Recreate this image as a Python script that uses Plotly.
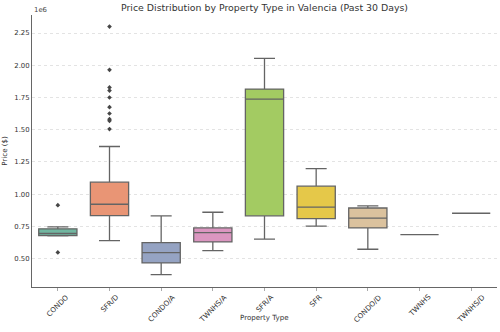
import plotly.graph_objects as go

categories = ["CONDO", "SFR/D", "CONDO/A", "TWNHS/A", "SFR/A", "SFR", "CONDO/D", "TWNHS", "TWNHS/D"]
q1 = [679000, 834000, 467000, 630000, 832000, 811000, 738000, 687000, 852000]
median = [695000, 922000, 547000, 702000, 1738000, 899000, 814000, 687000, 852000]
q3 = [731000, 1093000, 624000, 738000, 1815000, 1062000, 893000, 687000, 852000]
lower_whisker = [676000, 640000, 376000, 562000, 651000, 752000, 573000, 687000, 852000]
upper_whisker = [746000, 1370000, 832000, 860000, 2053000, 1199000, 909000, 687000, 852000]
outlier_cats = ["CONDO", "CONDO", "SFR/D", "SFR/D", "SFR/D", "SFR/D", "SFR/D", "SFR/D",
                "SFR/D", "SFR/D", "SFR/D", "SFR/D"]
outlier_vals = [915000, 548000, 2300000, 1965000, 1828000, 1804000, 1750000, 1675000,
                1626000, 1582000, 1569000, 1505000]
colors = ["rgb(113,182,160)", "rgb(233,149,117)", "rgb(149,163,195)", "rgb(219,150,192)",
          "rgb(163,203,98)", "rgb(229,200,73)", "rgb(219,194,158)", "rgb(179,179,179)",
          "rgb(113,182,160)"]
ytick_vals = [500000, 750000, 1000000, 1250000, 1500000, 1750000, 2000000, 2250000]
ytick_text = ["0.50", "0.75", "1.00", "1.25", "1.50", "1.75", "2.00", "2.25"]

line_gray = "rgb(100,100,100)"
small = 6.9

fig = go.Figure()
for i, c in enumerate(categories):
    fig.add_trace(go.Box(
        x=[c], q1=[q1[i]], median=[median[i]], q3=[q3[i]],
        lowerfence=[lower_whisker[i]], upperfence=[upper_whisker[i]],
        fillcolor=colors[i], line=dict(color=line_gray, width=1.3),
        width=0.74, whiskerwidth=0.55, boxpoints=False, showlegend=False,
        hoverinfo="skip",
    ))

fig.add_trace(go.Scatter(
    x=outlier_cats, y=outlier_vals, mode="markers",
    marker=dict(symbol="diamond", size=3.6, color="rgb(70,70,70)"),
    showlegend=False, hoverinfo="skip",
))

annotations = []
for c in categories:
    annotations.append(dict(
        text=c, x=c, xref="x", y=0, yref="paper", xanchor="center", yanchor="top",
        yshift=-3, textangle=-45, showarrow=False, font=dict(size=7.2, color="#333"),
    ))
annotations.append(dict(text="Property Type", x=0.5, xref="paper", xanchor="center",
                        y=0, yref="paper", yanchor="middle", yshift=-30,
                        showarrow=False, font=dict(size=7.1, color="#333")))
annotations.append(dict(text="1e6", x=0, xref="paper", xanchor="left",
                        y=1.0, yref="paper", yanchor="middle", yshift=5,
                        showarrow=False, font=dict(size=small, color="#444")))

font_family = "DejaVu Sans, sans-serif"
fig.update_layout(
    width=500, height=332,
    margin=dict(l=32, r=3, t=15, b=45),
    paper_bgcolor="white", plot_bgcolor="white",
    boxmode="overlay",
    font=dict(family=font_family, size=small, color="#333"),
    title=dict(text="Price Distribution by Property Type in Valencia (Past 30 Days)",
               x=0.5, xref="paper", xanchor="center", y=1 - 7.5 / 332, yanchor="middle",
               font=dict(size=9.4, color="#333")),
    xaxis=dict(
        type="category", categoryorder="array", categoryarray=categories,
        range=[-0.5, 8.5], showline=True, linecolor="#666", linewidth=1,
        ticks="outside", ticklen=3, tickcolor="#aaa", showticklabels=False,
        showgrid=False, automargin=False,
    ),
    yaxis=dict(
        range=[280000, 2390000], tickvals=ytick_vals, ticktext=ytick_text,
        showline=True, linecolor="#666", linewidth=1, ticks="",
        showgrid=True, gridcolor="#e3e3e3", griddash="dot", gridwidth=1,
        zeroline=False, tickfont=dict(size=small, color="#333"), automargin=False,
        title=dict(text="Price ($)", font=dict(size=7.1, color="#333"), standoff=7),
    ),
    annotations=annotations,
)

fig.write_html("out.html")
